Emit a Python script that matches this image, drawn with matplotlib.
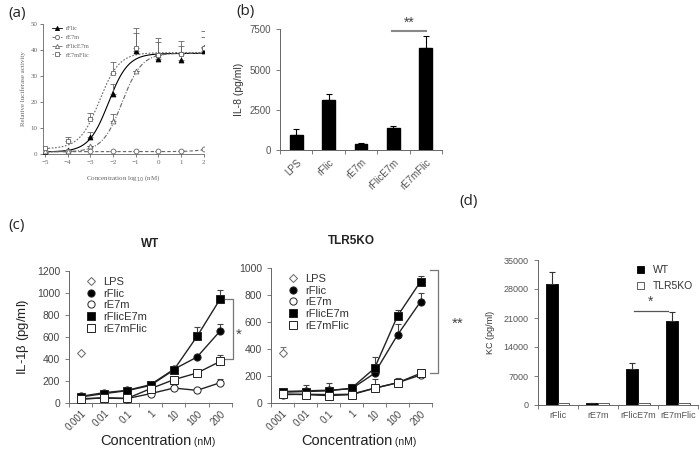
import matplotlib
matplotlib.use('Agg')
import matplotlib.pyplot as plt
from matplotlib.lines import Line2D
import numpy as np

plt.rcParams['font.family'] = ['Liberation Sans', 'DejaVu Sans']

# ---- (a) luciferase dose response ----
a_x = [-5, -4, -3, -2, -1, 0, 1, 2]
a_flic = [0.5, 1.5, 6.4, 23.0, 39.7, 36.5, 36.0, 39.5]
a_flic_err = [0, 0, 2.2, 4.0, 6.7, 6.5, 5.5, 5.5]
a_e7m = [1.0, 1.0, 1.0, 1.0, 1.0, 1.0, 1.0, 1.8]
a_e7m_err = [0, 0, 0, 0, 0, 0, 0, 0]
a_flice7m = [1.0, 1.2, 3.0, 12.7, 32.0, 38.0, 39.0, 41.0]
a_flice7m_err = [0, 0, 0, 2.7, 0, 0, 0, 0]
a_e7mflic = [2.2, 5.1, 13.3, 31.3, 40.7, 38.0, 38.5, 40.8]
a_e7mflic_err = [0, 1.6, 2.6, 4.2, 7.6, 6.8, 5.0, 6.5]
a_names = ['rFlic', 'rE7m', 'rFlicE7m', 'rE7mFlic']
# fitted sigmoid parameters (bottom, top, logEC50, hill)
fit_bottom = [0.8, 0.9, 0.8, 2.0]
fit_top = [38.7, 3.0, 38.8, 39.0]
fit_logec50 = [-2.2, 2.3, -1.6, -2.6]
fit_hill = [1.0, 1.0, 1.0, 1.0]

# ---- (b) IL-8 ----
b_cats = ['LPS', 'rFlic', 'rE7m', 'rFlicE7m', 'rE7mFlic']
b_vals = [940, 3110, 375, 1345, 6360]
b_err = [345, 350, 80, 145, 725]

# ---- (c) IL-1beta ----
c_conc = ['0.001', '0.01', '0.1', '1', '10', '100', '200']
c_names = ['LPS', 'rFlic', 'rE7m', 'rFlicE7m', 'rE7mFlic']
wt_lps, wt_lps_err = 455, 0
wt_flic = [60, 94, 115, 167, 306, 418, 657]
wt_flic_err = [0, 0, 0, 0, 0, 20, 62]
wt_e7m = [40, 45, 40, 85, 136, 115, 185]
wt_e7m_err = [0, 0, 0, 0, 0, 0, 35]
wt_flice7m = [55, 85, 112, 160, 300, 606, 948]
wt_flice7m_err = [0, 0, 0, 0, 20, 84, 82]
wt_e7mflic = [33, 48, 42, 130, 212, 273, 379]
wt_e7mflic_err = [0, 0, 0, 0, 0, 0, 61]

ko_lps, ko_lps_err = 368, 49
ko_flic = [85, 90, 95, 105, 220, 504, 750]
ko_flic_err = [15, 40, 50, 35, 0, 80, 62]
ko_e7m = [62, 65, 62, 65, 110, 150, 207]
ko_e7m_err = [0, 0, 0, 0, 0, 0, 0]
ko_flice7m = [80, 85, 90, 110, 257, 644, 899]
ko_flice7m_err = [20, 20, 20, 10, 86, 45, 44]
ko_e7mflic = [67, 62, 55, 62, 109, 150, 220]
ko_e7mflic_err = [0, 0, 0, 0, 69, 37, 10]

# ---- (d) KC ----
d_cats = ['rFlic', 'rE7m', 'rFlicE7m', 'rE7mFlic']
d_wt = [29100, 500, 8800, 20200]
d_wt_err = [3100, 0, 1450, 2200]
d_ko = [500, 500, 500, 500]
d_ko_err = [0, 0, 0, 0]

fig = plt.figure(figsize=(7, 4.51), dpi=100)
W, H = 700.0, 451.0


def add_ax(x0, x1, ytop, ybot):
    return fig.add_axes([x0 / W, (H - ybot) / H, (x1 - x0) / W, (ybot - ytop) / H])


def clean(ax):
    ax.spines['top'].set_visible(False)
    ax.spines['right'].set_visible(False)


def up_err(vals, errs):
    return [np.zeros(len(errs)), errs]


# ================= (a) =================
ax = add_ax(43.3, 204, 24, 154)
clean(ax)
serif = 'Liberation Serif'
gray = '#666666'
a_series = [a_flic, a_e7m, a_flice7m, a_e7mflic]
a_errs = [a_flic_err, a_e7m_err, a_flice7m_err, a_e7mflic_err]
a_markers = ['^', 'o', '^', 's']
a_fill = ['black', 'white', 'white', 'white']
a_col = ['black', gray, gray, gray]
a_ls = ['-', (0, (3, 2)), (0, (4, 1.5, 1, 1.5)), (0, (1.5, 1.5))]
xs = np.linspace(-5, 2, 200)
handles = []
for i in range(4):
    yfit = fit_bottom[i] + (fit_top[i] - fit_bottom[i]) / (1 + 10 ** ((fit_logec50[i] - xs) * fit_hill[i]))
    ax.plot(xs, yfit, color=a_col[i], ls=a_ls[i], lw=0.8)
    ax.errorbar(a_x, a_series[i], yerr=up_err(a_series[i], a_errs[i]), fmt='none',
                ecolor=gray, elinewidth=0.6, capsize=2, capthick=0.6)
    ax.plot(a_x, a_series[i], ls='none', marker=a_markers[i], ms=3.5,
            mfc=a_fill[i], mec=a_col[i], mew=0.6, zorder=5)
    handles.append(Line2D([], [], color=a_col[i], ls=a_ls[i], lw=0.6, marker=a_markers[i],
                          ms=3, mfc=a_fill[i], mec=a_col[i], mew=0.6))
ax.set_xlim(-5.08, 2.02)
ax.set_ylim(0, 50)
ax.set_xticks(a_x)
ax.set_yticks([0, 10, 20, 30, 40, 50])
ax.tick_params(labelsize=5, colors=gray, length=2, width=0.6, pad=2)
for lab in ax.get_xticklabels() + ax.get_yticklabels():
    lab.set_family(serif)
for s in ['left', 'bottom']:
    ax.spines[s].set_color(gray)
    ax.spines[s].set_linewidth(0.6)
ax.set_ylabel('Relative luciferase activity', fontsize=5, family=serif, color=gray, labelpad=3)
ax.set_xlabel('Concentration log$_{10}$ (nM)', fontsize=5, family=serif, color=gray, labelpad=6)
leg = ax.legend(handles, a_names, loc='upper left', bbox_to_anchor=(0.02, 1.03), frameon=False,
                prop={'family': serif, 'size': 4.5}, handlelength=1.6, labelspacing=0.55,
                handletextpad=0.6)
for t in leg.get_texts():
    t.set_color(gray)

# ================= (b) =================
ax = add_ax(280, 442, 29.3, 150)
clean(ax)
xb = np.arange(len(b_cats))
ax.bar(xb, b_vals, width=0.4, color='black', edgecolor='black', zorder=2)
ax.errorbar(xb, b_vals, yerr=up_err(b_vals, b_err), fmt='none', ecolor='black',
            elinewidth=0.8, capsize=2.5, capthick=0.8)
ax.set_xlim(-0.5, len(b_cats) - 0.5)
ax.set_ylim(0, 7500)
ax.set_yticks([0, 2500, 5000, 7500])
ax.set_xticks(xb)
ax.set_xticklabels(b_cats, rotation=45, ha='right', rotation_mode='anchor')
ax.set_xticks(np.arange(-0.5, len(b_cats)), minor=True)
ax.tick_params(axis='x', which='major', length=0, pad=5)
ax.tick_params(axis='x', which='minor', length=3, width=0.6, color='#666666')
ax.tick_params(axis='y', length=3, width=0.6, color='#666666')
ax.tick_params(labelsize=7, labelcolor='#555555')
for s in ['left', 'bottom']:
    ax.spines[s].set_color('#666666')
    ax.spines[s].set_linewidth(0.7)
ax.set_ylabel('IL-8 (pg/ml)', fontsize=7.5, color='#333333', labelpad=4)
ax.plot([2.95, 4.0], [7400, 7400], color='#888888', lw=1.5, clip_on=False)
ax.text(3.48, 7500, '**', ha='center', va='bottom', fontsize=10, color='#444444')

# ================= (c) =================
c_markers = ['D', 'o', 'o', 's', 's']
c_fill = ['white', 'black', 'white', 'black', 'white']
c_ms = [4.2, 5.2, 5.2, 5.6, 5.6]


def panel_c(ax, lps, lps_err, series, errs, ymax, title):
    clean(ax)
    xc = np.arange(len(c_conc))
    for i, (vals, err) in enumerate(zip(series, errs)):
        ax.errorbar(xc, vals, yerr=up_err(vals, err), fmt='none', ecolor='#444444',
                    elinewidth=0.8, capsize=2.5, capthick=0.8, zorder=2)
        ax.plot(xc, vals, color='#222222', lw=1.0, marker=c_markers[i + 1], ms=c_ms[i + 1],
                mfc=c_fill[i + 1], mec='#222222', mew=0.7, zorder=3 + i)
    if lps_err:
        ax.errorbar([0], [lps], yerr=[[0], [lps_err]], fmt='none', ecolor='#777777',
                    elinewidth=0.8, capsize=2.5, capthick=0.8)
    ax.plot([0], [lps], ls='none', marker='D', ms=c_ms[0], mfc='white', mec='#666666', mew=0.7)
    ax.set_xlim(-0.5, len(c_conc) - 0.5)
    ax.set_ylim(0, ymax)
    ax.set_yticks(np.arange(0, ymax + 1, 200))
    ax.set_xticks(xc)
    ax.set_xticklabels(c_conc, rotation=45, ha='right', rotation_mode='anchor')
    ax.set_xticks(np.arange(-0.5, len(c_conc)), minor=True)
    ax.tick_params(axis='x', which='major', length=0, pad=4)
    ax.tick_params(axis='x', which='minor', length=3, width=0.6, color='#666666')
    ax.tick_params(axis='y', length=3, width=0.6, color='#666666')
    ax.tick_params(axis='x', labelsize=7)
    ax.tick_params(axis='y', labelsize=7.5)
    ax.tick_params(labelcolor='#444444')
    for s in ['left', 'bottom']:
        ax.spines[s].set_color('#666666')
        ax.spines[s].set_linewidth(0.7)
    ax.set_title(title, fontsize=8.5, fontweight='bold', color='#222222', pad=17)
    # x label: "Concentration" with a smaller "(nM)" after it
    t = fig.text(ax.get_position().x0 + 0.47 * ax.get_position().width, 1 - 441 / H,
                 'Concentration', fontsize=10.5, color='#222222', ha='center', va='center')
    ax.annotate(' (nM)', xy=(1, 0.1), xycoords=t, fontsize=7.5, color='#222222',
                ha='left', va='bottom')
    hs = [Line2D([], [], ls='none', marker=c_markers[k], ms=c_ms[k], mfc=c_fill[k],
                 mec='#222222' if k else '#666666', mew=0.7) for k in range(5)]
    ax.legend(hs, c_names, loc='upper left', bbox_to_anchor=(0.04, 1.03), frameon=False,
              fontsize=8, handlelength=1.0, labelspacing=0.15, handletextpad=0.6,
              labelcolor='#333333')


ax = add_ax(69, 232, 271, 403)
panel_c(ax, wt_lps, wt_lps_err, [wt_flic, wt_e7m, wt_flice7m, wt_e7mflic],
        [wt_flic_err, wt_e7m_err, wt_flice7m_err, wt_e7mflic_err], 1200, 'WT')
ax.set_ylabel('IL-1$\\mathregular{\\beta}$ (pg/ml)', fontsize=9.5, color='#222222', labelpad=4)
ax.plot([6.19, 6.54, 6.54, 6.19], [950, 950, 397, 397], color='#777777', lw=0.9, clip_on=False)
ax.text(6.8, 620, '*', ha='center', va='center', fontsize=11, color='#444444')

ax = add_ax(271, 432, 268, 403)
panel_c(ax, ko_lps, ko_lps_err, [ko_flic, ko_e7m, ko_flice7m, ko_e7mflic],
        [ko_flic_err, ko_e7m_err, ko_flice7m_err, ko_e7mflic_err], 1000, 'TLR5KO')
ax.plot([6.41, 6.76, 6.76, 6.41], [985, 985, 222, 222], color='#777777', lw=0.9, clip_on=False)
ax.text(7.63, 590, '**', ha='center', va='center', fontsize=11, color='#444444')

# ================= (d) =================
ax = add_ax(537.7, 698, 260, 405)
clean(ax)
xd = np.arange(len(d_cats))
bw = 0.29
ax.bar(xd - bw / 2, d_wt, width=bw, color='black', edgecolor='black', lw=0.6, label='WT', zorder=2)
ax.bar(xd + bw / 2, d_ko, width=bw, color='white', edgecolor='#444444', lw=0.6, label='TLR5KO', zorder=2)
ax.errorbar(xd - bw / 2, d_wt, yerr=up_err(d_wt, d_wt_err), fmt='none', ecolor='#333333',
            elinewidth=0.8, capsize=2.5, capthick=0.8)
ax.set_xlim(-0.5, len(d_cats) - 0.5)
ax.set_ylim(0, 35000)
ax.set_yticks(np.arange(0, 35001, 7000))
ax.set_xticks(xd)
ax.set_xticklabels(d_cats)
ax.set_xticks(np.arange(-0.5, len(d_cats)), minor=True)
ax.tick_params(axis='x', which='major', length=0, pad=4)
ax.tick_params(axis='x', which='minor', length=3, width=0.6, color='#666666')
ax.tick_params(axis='y', length=3, width=0.6, color='#666666')
ax.tick_params(labelsize=6.5, labelcolor='#555555')
for s in ['left', 'bottom']:
    ax.spines[s].set_color('#666666')
    ax.spines[s].set_linewidth(0.7)
ax.set_ylabel('KC (pg/ml)', fontsize=6.5, color='#333333', labelpad=6)
ax.legend(loc='upper left', bbox_to_anchor=(0.56, 1.03), frameon=False, fontsize=7.5,
          handlelength=0.7, handleheight=0.7, labelspacing=0.6, handletextpad=0.8,
          labelcolor='#333333')
ax.plot([1.9, 2.76], [22800, 22800], color='#555555', lw=0.9)
ax.text(2.31, 23300, '*', ha='center', va='bottom', fontsize=10, color='#444444')

# panel letters
for lab, x, y in [('(a)', 8, 13), ('(b)', 236, 12), ('(c)', 8, 225), ('(d)', 459, 202)]:
    fig.text(x / W, 1 - y / H, lab, fontsize=11, family='Open Sans', color='#222222',
             ha='left', va='center')

fig.savefig('out.png', dpi=100)
